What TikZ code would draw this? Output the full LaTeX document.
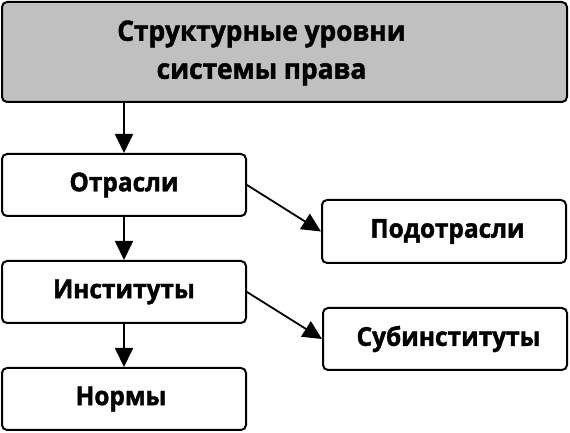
\documentclass[tikz,border=0pt]{standalone}
\usepackage{fontspec}
\setmainfont[FakeStretch=0.94, BoldFeatures={FakeBold=1.5}]{Open Sans}
\usetikzlibrary{arrows.meta}
\definecolor{titlegray}{RGB}{192,192,192}
\begin{document}
\begin{tikzpicture}[x=1pt,y=1pt,
  box/.style={draw=black, line width=2pt, rounded corners=5pt, fill=white, inner sep=0pt, font=\bfseries\fontsize{26}{30}\selectfont},
  conn/.style={line width=1.8pt, -{Triangle[length=19pt,width=18pt]}}]
\useasboundingbox (0,0) rectangle (570,433);
\node[box, fill=titlegray, minimum width=565pt, minimum height=100pt] (top) at (284.5,381) {};
\node[align=center, inner sep=0pt, font=\bfseries\fontsize{28}{38}\selectfont] (toptext) at ([xshift=-23pt,yshift=-1pt]top.center) {Структурные уровни\\системы права};
\node[box, minimum width=244pt, minimum height=62pt] (otr) at (124,248) {Отрасли};
\node[box, minimum width=244pt, minimum height=62pt] (inst) at (124,141) {Институты};
\node[box, minimum width=244pt, minimum height=62pt] (norm) at (124,34) {\hspace*{-6pt}Нормы};
\node[box, minimum width=244pt, minimum height=63pt] (podo) at (444,201.5) {\hspace*{7pt}Подотрасли};
\node[box, minimum width=244pt, minimum height=62pt] (sub) at (445,94) {\hspace*{7pt}Субинституты};
\draw[conn] (top.south -| otr.north) -- (otr.north);
\draw[conn] (otr) -- (inst);
\draw[conn] (inst) -- (norm);
\draw[conn] (otr.east) -- (podo.west);
\draw[conn] (inst.east) -- (sub.west);
\end{tikzpicture}
\end{document}
